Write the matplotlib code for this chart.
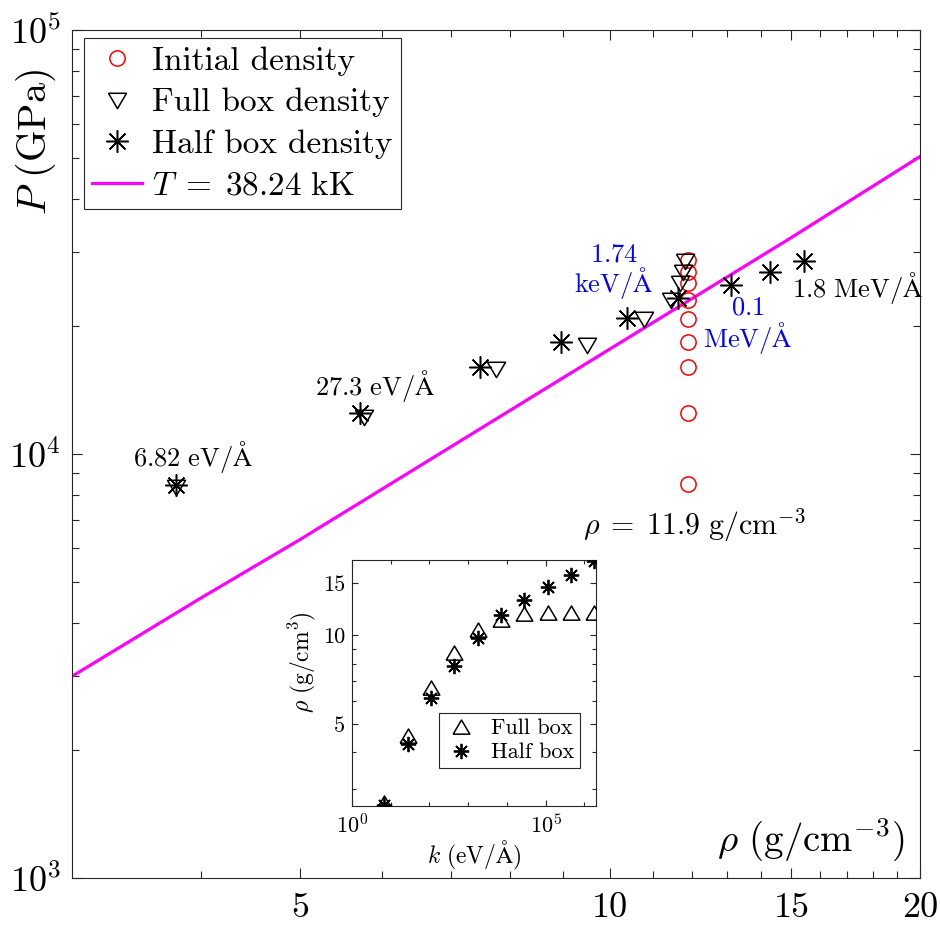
import numpy as np
import matplotlib
matplotlib.use('Agg')
import matplotlib.pyplot as plt
from matplotlib.ticker import FixedLocator, FixedFormatter, NullFormatter, LogLocator, LogFormatterSciNotation
from matplotlib.lines import Line2D

plt.rcParams['font.family'] = ['cmr10', 'DejaVu Serif']
plt.rcParams['mathtext.fontset'] = 'cm'
plt.rcParams['axes.unicode_minus'] = False
plt.rcParams['axes.formatter.use_mathtext'] = True

# ---------------- data ----------------
rho_init = [11.9, 11.9, 11.9, 11.9, 11.9, 11.9, 11.9, 11.9, 11.9]
P_init = [8500, 12470, 16000, 18420, 20870, 23070, 25270, 26910, 28750]

rho_full = [3.79, 5.76, 7.74, 9.49, 10.79, 11.46, 11.68, 11.76, 11.83]
P_full = [8360, 12230, 15840, 18070, 20780, 23070, 25270, 26910, 28530]

rho_half = [3.79, 5.71, 7.48, 8.95, 10.39, 11.65, 13.1, 14.3, 15.44]
P_half = [8450, 12500, 16020, 18400, 20890, 23390, 25040, 26920, 28570]

rho_T = [3, 4, 5, 10, 15, 20]
P_T = [2990, 4570, 6290, 17700, 32400, 50300]

k_inset = [6.82, 27.3, 109, 437, 1750, 6990, 27900, 112000, 447000, 1790000]
rho_full_k = [2.70, 4.53, 6.60, 8.67, 10.45, 11.3, 11.78, 11.9, 11.9, 11.9]
rho_half_k = [2.65, 4.28, 6.11, 7.86, 9.79, 11.69, 13.14, 14.57, 16.03, 17.83]

main_xticks = [5, 10, 15, 20]
main_xminor = [4, 6, 7, 8, 9, 11, 12, 13, 14, 16, 17, 18, 19]
inset_yticks = [5, 10, 15]
inset_yminor = [3, 4, 6, 7, 8, 9]

# ---------------- figure ----------------
fig = plt.figure(figsize=(9.4, 9.25), dpi=100)
W, H = 940, 925
ax_l, ax_r, ax_t, ax_b = 72, 920, 30, 878
ax = fig.add_axes([ax_l / W, 1 - ax_b / H, (ax_r - ax_l) / W, (ax_b - ax_t) / H])

asterisk = (8, 2, 0)
tri_down = [(-1, 0.8), (1, 0.8), (0, -0.9), (-1, 0.8)]
tri_up = [(-1, -0.8), (1, -0.8), (0, 0.9), (-1, -0.8)]

ax.plot(rho_T, P_T, color='#ff00ff', lw=2.3, zorder=2)
ax.plot(rho_init, P_init, 'o', ms=11, mfc='none', mec='#ff0000', mew=1.1, zorder=3)
ax.plot(rho_full, P_full, ls='none', marker=tri_down, ms=13, mfc='none', mec='k', mew=1.1, zorder=4)
ax.plot(rho_half, P_half, ls='none', marker=asterisk, ms=16, mec='k', mew=1.1, zorder=5)

ax.set_xscale('log')
ax.set_yscale('log')
ax.set_xlim(3, 20)
ax.set_ylim(1e3, 1e5)
ax.xaxis.set_major_locator(FixedLocator(main_xticks))
ax.xaxis.set_major_formatter(FixedFormatter([str(v) for v in main_xticks]))
ax.xaxis.set_minor_locator(FixedLocator(main_xminor))
ax.xaxis.set_minor_formatter(NullFormatter())
ax.yaxis.set_major_locator(FixedLocator([1e3, 1e4, 1e5]))
ax.yaxis.set_major_formatter(LogFormatterSciNotation())
ax.yaxis.set_minor_locator(LogLocator(base=10, subs=np.arange(2, 10)))
ax.yaxis.set_minor_formatter(NullFormatter())
ax.tick_params(which='both', direction='in', top=True, right=True, colors='#262626',
               labelcolor='k', width=0.8)
ax.tick_params(which='major', length=7, labelsize=26, pad=8)
ax.tick_params(axis='x', which='major', pad=10)
ax.tick_params(which='minor', length=5)
for s in ax.spines.values():
    s.set_color('#262626')
    s.set_linewidth(0.8)

ax.set_ylabel(r'$P\ \mathrm{(GPa)}$', fontsize=29)
ax.yaxis.set_label_coords(-0.016, 0.868)
ax.text(0.8715, 0.045, r'$\rho\ \mathrm{(g/cm^{-3})}$', transform=ax.transAxes,
        fontsize=28, ha='center', va='center')

# annotations
ax.text(3.93, 9840, r'$6.82\ \mathrm{eV/\AA}$', fontsize=19, ha='center', va='center')
ax.text(5.91, 14500, r'$27.3\ \mathrm{eV/\AA}$', fontsize=19, ha='center', va='center')
ax.text(10.08, 29500, r'$1.74$', fontsize=19, ha='center', va='center', color='#0000ff')
ax.text(10.08, 25300, r'$\mathrm{keV/\AA}$', fontsize=19, ha='center', va='center', color='#0000ff')
ax.text(13.6, 22100, r'$0.1$', fontsize=19, ha='center', va='center', color='#0000ff')
ax.text(13.6, 18800, r'$\mathrm{MeV/\AA}$', fontsize=19, ha='center', va='center', color='#0000ff')
ax.text(17.4, 24600, r'$1.8\ \mathrm{MeV/\AA}$', fontsize=19, ha='center', va='center')
ax.text(9.40, 6800, r'$\rho\;=\;11.9\ \mathrm{g/cm^{-3}}$', fontsize=21.5, ha='left', va='center')

handles = [
    Line2D([], [], ls='none', marker='o', ms=11, mfc='none', mec='#ff0000', mew=1.1),
    Line2D([], [], ls='none', marker=tri_down, ms=13, mfc='none', mec='k', mew=1.1),
    Line2D([], [], ls='none', marker=asterisk, ms=16, mec='k', mew=1.1),
    Line2D([], [], color='#ff00ff', lw=2.3),
]
labels = ['Initial density', 'Full box density', 'Half box density', r'$T\;=\;38.24\ \mathrm{kK}$']
leg = ax.legend(handles, labels, loc='upper left', bbox_to_anchor=(0.0142, 0.9906),
                borderaxespad=0, fontsize=24, frameon=True, fancybox=False,
                edgecolor='#262626', framealpha=1, handlelength=1.5, handletextpad=0.3,
                labelspacing=0.36, borderpad=0.25)
leg.get_frame().set_linewidth(0.8)

# ---------------- inset ----------------
in_l, in_r, in_t, in_b = 352, 596, 560, 806
ax2 = fig.add_axes([in_l / W, 1 - in_b / H, (in_r - in_l) / W, (in_b - in_t) / H])
ax2.plot(k_inset, rho_full_k, ls='none', marker=tri_up, ms=12, mfc='none', mec='k', mew=1.1,
         label='Full box', zorder=3)
ax2.plot(k_inset, rho_half_k, ls='none', marker=asterisk, ms=11, mec='k', mew=1.3,
         label='Half box', zorder=4)
ax2.set_xscale('log')
ax2.set_yscale('log')
ax2.set_xlim(1, 2e6)
ax2.set_ylim(2.63, 18)
ax2.xaxis.set_major_locator(FixedLocator([1, 1e5]))
ax2.xaxis.set_major_formatter(LogFormatterSciNotation())
ax2.xaxis.set_minor_locator(FixedLocator([1e1, 1e2, 1e3, 1e4, 1e6]))
ax2.xaxis.set_minor_formatter(NullFormatter())
ax2.yaxis.set_major_locator(FixedLocator(inset_yticks))
ax2.yaxis.set_major_formatter(FixedFormatter([str(v) for v in inset_yticks]))
ax2.yaxis.set_minor_locator(FixedLocator(inset_yminor))
ax2.yaxis.set_minor_formatter(NullFormatter())
ax2.tick_params(which='both', direction='in', top=True, right=True, colors='#262626',
                labelcolor='k', width=0.8)
ax2.tick_params(which='major', length=4, labelsize=16, pad=5)
ax2.tick_params(which='minor', length=3)
for s in ax2.spines.values():
    s.set_color('#262626')
    s.set_linewidth(0.8)
ax2.set_xlabel(r'$k\ \mathrm{(eV/\AA)}$', fontsize=17, labelpad=1)
ax2.set_ylabel(r'$\rho\ \mathrm{(g/cm^3)}$', fontsize=17)
ax2.yaxis.set_label_coords(-0.139, 0.585)
leg2 = ax2.legend(loc='upper left', bbox_to_anchor=(0.357, 0.377), borderaxespad=0,
                  fontsize=16, frameon=True, fancybox=False, edgecolor='#262626',
                  framealpha=1, handlelength=1.5, handletextpad=0.6,
                  labelspacing=0.2, borderpad=0.25)
leg2.get_frame().set_linewidth(0.8)

fig.savefig('out.png', dpi=100)
